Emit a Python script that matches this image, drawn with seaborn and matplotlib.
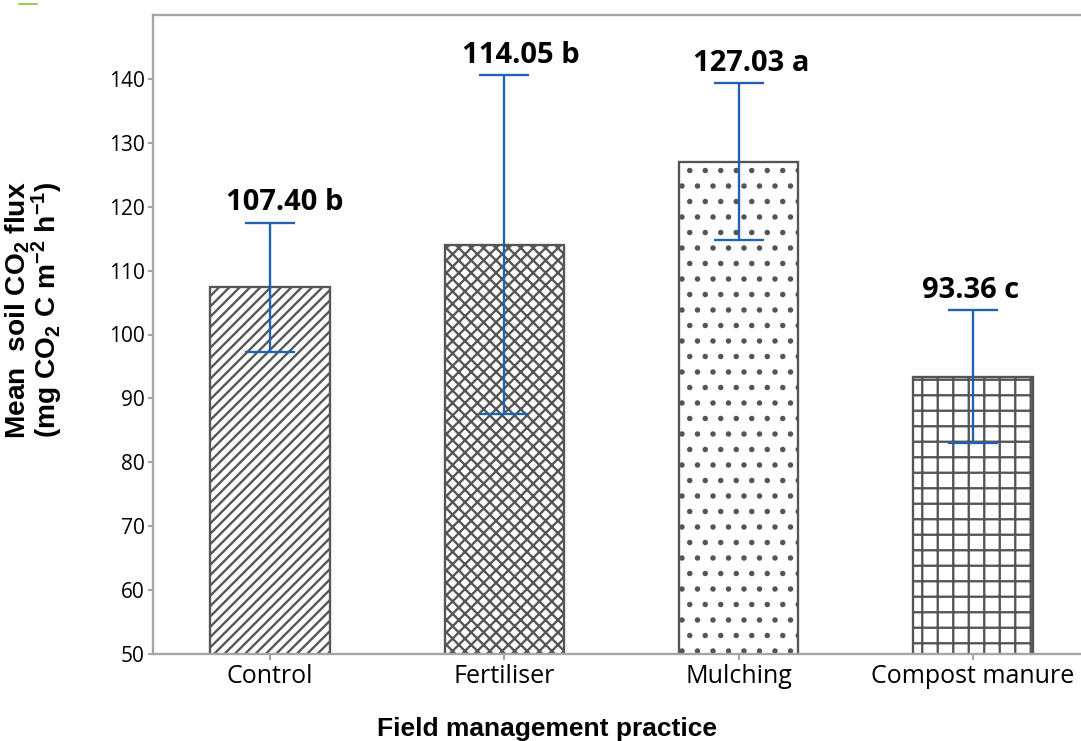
import numpy as np
import matplotlib
matplotlib.use("Agg")
import matplotlib.pyplot as plt
import pandas as pd
import seaborn as sns
from matplotlib.lines import Line2D

# Data
practices = ['Control', 'Fertiliser', 'Mulching', 'Compost manure']
mean_flux = [107.40, 114.05, 127.03, 93.36]
sd_flux = [10.1, 26.5, 12.3, 10.4]
letters = ['b', 'b', 'a', 'c']
hatches = ['//////', 'xxxxx', '..', '++']
label_shift = [5.6, 6.5, 4.8, -0.8]  # label nudges (points), as in the original

df = pd.DataFrame({'practice': practices, 'flux': mean_flux})

sns.set_style('white')
plt.rcParams['font.family'] = ['Open Sans', 'DejaVu Sans']
plt.rcParams['mathtext.default'] = 'regular'
plt.rcParams['text.color'] = 'black'
plt.rcParams['axes.labelcolor'] = 'black'
plt.rcParams['hatch.color'] = '#555555'
plt.rcParams['hatch.linewidth'] = 0.9

# dpi picked so the hatch spacing is close to the original
DPI = 186
fig = plt.figure(figsize=(1081 / DPI, 741 / DPI), dpi=DPI)
ax = fig.add_axes([153 / 1081, 1 - 654 / 741, 937 / 1081, 639 / 741])

sns.barplot(data=df, x='practice', y='flux', color='white', saturation=1,
            edgecolor='#555555', linewidth=0.9, width=0.51, errorbar=None, ax=ax)
for bar, h in zip(ax.patches, hatches):
    bar.set_hatch(h)
    bar.set_facecolor('white')

xpos = np.arange(len(practices))
ax.errorbar(xpos, mean_flux, yerr=sd_flux, fmt='none', ecolor='#1f63b0',
            elinewidth=0.9, capsize=9.7, capthick=0.9, zorder=5)

# value + letter labels above the error caps
for x, m, s, l, dx in zip(xpos, mean_flux, sd_flux, letters, label_shift):
    ax.annotate(f'{m:.2f} {l}', (x, m + s), xytext=(dx, 4.8), textcoords='offset points',
                ha='center', va='baseline', fontsize=11.3, fontweight='bold', color='black')

ax.set_ylim(50, 150)
ax.set_xlim(-0.5, 3.5)
ax.set_yticks(np.arange(50, 141, 10))

for sp in ax.spines.values():
    sp.set_color('#a6a6a6')
    sp.set_linewidth(0.9)

ax.tick_params(axis='y', direction='out', length=2, width=0.8, color='#a6a6a6',
               labelcolor='black', labelsize=8.1, pad=1.2, left=True)
ax.tick_params(axis='x', direction='out', length=2.4, width=0.8, color='#a6a6a6',
               labelcolor='black', labelsize=9.7, pad=1.6, bottom=True)

lab_fam = ['Liberation Sans', 'DejaVu Sans']
ax.set_ylabel('Mean  soil CO$_2$ flux\n(mg CO$_2$ C m$^{-2}$ h$^{-1}$)', family=lab_fam,
              fontweight='bold', fontsize=10.9, multialignment='center', linespacing=0.92)
ax.yaxis.set_label_coords(-0.094, 0.538)
ax.set_xlabel('Field management practice', family=lab_fam,
              fontweight='bold', fontsize=10.2)
ax.xaxis.set_label_coords(0.42, -0.098)
ax.xaxis.label.set_va('top')

# small green mark in the top-left corner of the original
fig.add_artist(Line2D([19 / 1081, 37 / 1081], [1 - 4 / 741, 1 - 4 / 741],
                      color='#9ccc50', linewidth=0.8))

fig.savefig('out.png', dpi=DPI)
